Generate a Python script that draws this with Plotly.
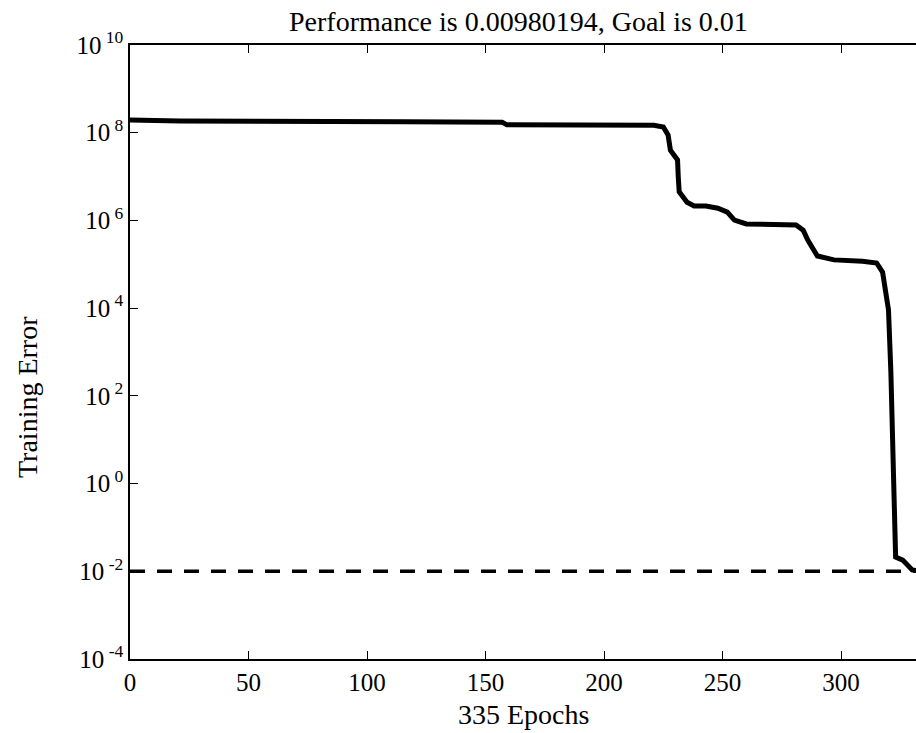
import plotly.graph_objects as go

# Training error curve
epochs = [0, 21, 116, 157, 159, 198, 221, 225, 227, 228, 231, 231.3, 231.7, 235, 238, 243,
          248, 252, 255, 260, 281, 284, 286, 290, 297, 309, 315, 317.5, 319, 320, 321, 322,
          323, 326, 330, 335]
errors = [1.95e8, 1.86e8, 1.78e8, 1.74e8, 1.51e8, 1.50e8, 1.48e8, 1.35e8, 8.9e7, 4.0e7,
          2.4e7, 9.8e6, 4.5e6, 2.6e6, 2.14e6, 2.14e6, 1.9e6, 1.55e6, 1.02e6, 8.3e5, 7.9e5,
          6.0e5, 3.5e5, 1.55e5, 1.26e5, 1.17e5, 1.07e5, 6.6e4, 1.8e4, 9.1e3, 3.5e2, 1.9,
          0.021, 0.018, 0.0107, 0.0098]

goal = 0.01
goal_epochs = [0, 335]
n_epochs = 335
performance = 0.00980194

x_ticks = [0, 50, 100, 150, 200, 250, 300]
y_exponents = [-4, -2, 0, 2, 4, 6, 8, 10]
y_tickvals = [10.0 ** e for e in y_exponents]
y_ticktext = [f"10<sup> {e}</sup>" for e in y_exponents]

title_text = f"Performance is {performance}, Goal is {goal}"
xlabel = f"{n_epochs} Epochs"
ylabel = "Training Error"

FONT = "Liberation Serif, Times New Roman, serif"

fig = go.Figure()
fig.add_trace(go.Scatter(x=goal_epochs, y=[goal, goal], mode="lines",
                         line=dict(color="black", width=3.5, dash="15px,12px"),
                         showlegend=False, hoverinfo="skip"))
fig.add_trace(go.Scatter(x=epochs, y=errors, mode="lines",
                         line=dict(color="black", width=5),
                         showlegend=False))

axis_common = dict(showgrid=False, zeroline=False, showline=True, linecolor="black",
                   linewidth=1.5, ticks="inside", ticklen=8, tickcolor="black", tickwidth=1.2)

fig.update_layout(
    width=916, height=733,
    margin=dict(l=130, r=0, t=45, b=74),
    paper_bgcolor="white", plot_bgcolor="white",
    font=dict(family=FONT, color="black", size=25),
    xaxis=dict(range=[0, 331.6], tickvals=x_ticks,
               tickfont=dict(size=25, family=FONT), **axis_common),
    xaxis2=dict(range=[0, 331.6], overlaying="x", side="top", matches="x",
                tickvals=x_ticks, showticklabels=False, **axis_common),
    yaxis=dict(type="log", range=[-4, 10], tickvals=y_tickvals, ticktext=y_ticktext,
               tickfont=dict(size=25, family=FONT), **axis_common),
    annotations=[
        dict(text=title_text, xref="paper", yref="paper", x=0.494, y=1 + 23 / 614,
             xanchor="center", yanchor="middle", showarrow=False,
             font=dict(size=28, family=FONT)),
        dict(text=xlabel, xref="paper", yref="paper", x=(523 - 130) / 786, y=-(714 - 659) / 614,
             xanchor="center", yanchor="middle", showarrow=False,
             font=dict(size=28, family=FONT)),
        dict(text=ylabel, xref="paper", yref="paper", x=(27 - 130) / 786, y=(659 - 397) / 614,
             xanchor="center", yanchor="middle", textangle=-90, showarrow=False,
             font=dict(size=28, family=FONT)),
    ],
)
# invisible trace to activate top axis
fig.add_trace(go.Scatter(x=[0], y=[1], xaxis="x2", mode="markers",
                         marker=dict(opacity=0), showlegend=False, hoverinfo="skip"))

fig.write_html("out.html")
